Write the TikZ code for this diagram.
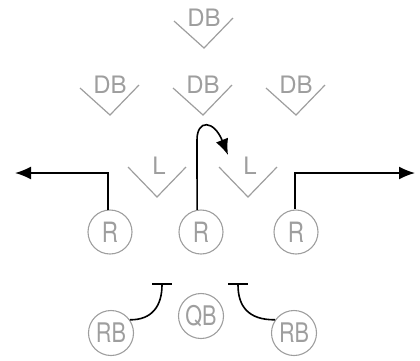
\documentclass[tikz,border=0pt]{standalone}
\usepackage{fontspec}
\setmainfont{TeX Gyre Heros}
\newfontfamily\condfont[FakeStretch=0.8]{TeX Gyre Heros}
\usetikzlibrary{arrows.meta,calc}
\definecolor{pgray}{gray}{0.62}
\begin{document}
\begin{tikzpicture}[x=1pt,y=-1pt,
  lbl/.style={text=pgray,font=\fontsize{24}{24}\selectfont,inner sep=0pt},
  player/.style={circle,draw=pgray,line width=1.1pt,minimum size=44pt,inner sep=0pt,text=pgray,font=\condfont\fontsize{28}{28}\selectfont},
  smallplayer/.style={player,minimum size=45pt,font=\condfont\fontsize{27}{27}\selectfont},
  vmark/.style={draw=pgray,line width=1.2pt},
  route/.style={draw=black,line width=1.6pt},
  arr/.style={-{Latex[length=16pt,width=13pt]}},
  block/.style={-{Bar[width=20pt,line width=2.4pt]}}]
\useasboundingbox (0,0) rectangle (420,360);
% defenders
\node[lbl] (dbt) at (204,18) {DB};
\node[lbl] (db1) at (110,85) {DB};
\node[lbl] (db2) at (203,85) {DB};
\node[lbl] (db3) at (296,85) {DB};
\node[lbl] (l1) at (159,166) {L};
\node[lbl] (l2) at (250,166) {L};
\foreach \n in {dbt,db1,db2,db3}{
  \draw[vmark] ($(\n)+(-30,3)$) -- ($(\n)+(0,30)$) -- ($(\n)+(29,0)$);
}
\foreach \n in {l1,l2}{
  \draw[vmark] ($(\n)+(-31,1)$) -- ($(\n)+(-2,31)$) -- ($(\n)+(27,1)$);
}
% offense
\node[player] (r1) at (110,232) {R};
\node[player] (r2) at (201,232) {R};
\node[player] (r3) at (296,232) {R};
\node[smallplayer] (qb) at (201,316) {QB};
\node[smallplayer] (rb1) at (111,333) {RB};
\node[smallplayer] (rb2) at (294,333) {RB};
% route ends
\coordinate (e1) at (15,173);
\coordinate (e3) at (415,173);
\coordinate (e2) at (228,155);
\coordinate (b1) at (162,283);
\coordinate (b2) at (238,283);
% routes
\draw[route,arr] (r1.95) |- (e1);
\draw[route,arr] (r3.92) |- (e3);
\draw[route,arr] (r2.100) -- (197,140) .. controls (197,119) and (214,120) .. (e2);
\draw[route,block] (rb1.35) .. controls (152,320) and (162,306) .. (b1);
\draw[route,block] (rb2.145) .. controls (248,320) and (238,306) .. (b2);
\end{tikzpicture}
\end{document}
